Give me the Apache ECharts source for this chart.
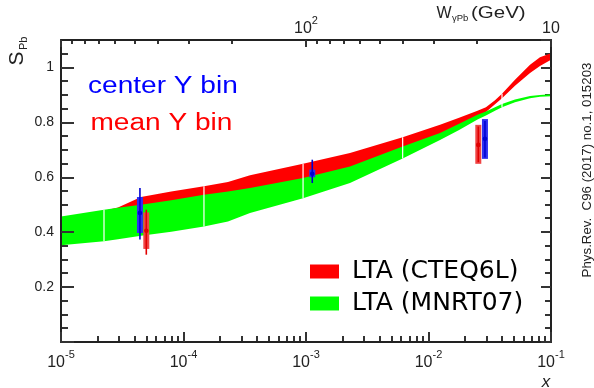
<!DOCTYPE html>
<html><head><meta charset="utf-8">
<script src="https://cdn.jsdelivr.net/npm/echarts@6/dist/echarts.min.js"></script>
<style>html,body{margin:0;padding:0;background:#fff}#c{width:594px;height:388px}</style>
</head><body><div id="c"></div>
<script>
// ---- band samples (x = Bjorken x) ----
const bandX    = [1.0e-5, 2.244e-5, 2.917e-5, 4.498e-5, 7.943e-5, 1.469e-4, 2.307e-4, 3.491e-4, 9.462e-4, 2.286e-3, 6.152e-3, 1.242e-2, 1.778e-2, 2.512e-2, 2.944e-2, 3.491e-2, 3.981e-2, 5.082e-2, 6.745e-2, 8.128e-2, 1.0e-1];
const cteqLow  = [0.430, 0.455, 0.465, 0.480, 0.495, 0.510, 0.525, 0.540, 0.580, 0.625, 0.700, 0.752, 0.785, 0.820, 0.838, 0.866, 0.888, 0.933, 0.980, 1.005, 1.028];
const cteqHigh = [0.452, 0.478, 0.490, 0.528, 0.548, 0.567, 0.583, 0.607, 0.649, 0.688, 0.746, 0.791, 0.817, 0.842, 0.855, 0.881, 0.904, 0.955, 1.010, 1.037, 1.052];
const mnrtLow  = [0.352, 0.367, 0.374, 0.387, 0.402, 0.421, 0.439, 0.470, 0.524, 0.579, 0.668, 0.736, 0.772, 0.810, 0.825, 0.842, 0.855, 0.873, 0.888, 0.893, 0.895];
const mnrtHigh = [0.457, 0.482, 0.489, 0.500, 0.516, 0.536, 0.548, 0.561, 0.597, 0.639, 0.712, 0.761, 0.795, 0.828, 0.840, 0.855, 0.867, 0.883, 0.896, 0.900, 0.902];
const gapIndex = [1, 5, 8, 10, 16];

// ---- data points ----
const blueX      = [4.41e-5, 1.125e-3, 2.89e-2];
const blueY      = [0.470, 0.613, 0.740];
const blueStatLo = [0.373, 0.579, 0.672];
const blueStatHi = [0.561, 0.664, 0.805];
const blueSysLo  = [0.397, 0.600, 0.667];
const blueSysHi  = [0.528, 0.628, 0.812];

const redX      = [4.97e-5, 2.55e-2];
const redY      = [0.405, 0.718];
const redStatLo = [0.318, 0.655];
const redStatHi = [0.482, 0.785];
const redSysLo  = [0.339, 0.649];
const redSysHi  = [0.472, 0.791];

// ---- ticks ----
const xDecades = [1e-5, 1e-4, 1e-3, 1e-2];
const xMults = [2, 3, 4, 5, 6, 7, 8, 9];
const wMinor = [20, 30, 40, 50, 60, 70, 80, 90, 200, 300, 400, 500, 600, 700, 800, 900];
const yMinor = [0.05, 0.1, 0.15, 0.25, 0.3, 0.35, 0.45, 0.5, 0.55, 0.65, 0.7, 0.75, 0.85, 0.9, 0.95, 1.05];

const xMinor = [];
xDecades.forEach(d => xMults.forEach(m => xMinor.push(d * m)));

const AX = '#222';
const FONT = 'Liberation Sans';
const X_MIN = 1e-5, X_MAX = 0.1, Y_MIN = 0, Y_MAX = 1.1;

function bandRender(lowArr, highArr, color) {
  return function (params, api) {
    if (params.dataIndex !== 0) return null;
    const pts = [];
    for (let i = 0; i < bandX.length; i++) pts.push(api.coord([bandX[i], highArr[i]]));
    for (let i = bandX.length - 1; i >= 0; i--) pts.push(api.coord([bandX[i], lowArr[i]]));
    return { type: 'polygon', shape: { points: pts }, style: { fill: color } };
  };
}
function pointRender(boxColor, lineColor) {
  return function (params, api) {
    const x = api.value(0);
    const c = api.coord([x, api.value(1)]);
    const sLo = api.coord([x, api.value(2)]), sHi = api.coord([x, api.value(3)]);
    const bLo = api.coord([x, api.value(4)]), bHi = api.coord([x, api.value(5)]);
    return { type: 'group', children: [
      { type: 'rect', shape: { x: c[0] - 3, y: bHi[1], width: 6, height: bLo[1] - bHi[1] }, style: { fill: boxColor } },
      { type: 'line', shape: { x1: c[0], y1: sLo[1], x2: c[0], y2: sHi[1] }, style: { stroke: lineColor, lineWidth: 1.6 } },
      { type: 'circle', shape: { cx: c[0], cy: c[1], r: 2.3 }, style: { fill: lineColor } }
    ]};
  };
}
function supLabel(v) {
  const e = Math.round(Math.log10(v));
  return '{b|10}{s|' + (e < 0 ? '-' : '') + Math.abs(e) + '}';
}
const labelRich = {
  b: { fontSize: 16, fontFamily: FONT, color: AX, lineHeight: 22, verticalAlign: 'bottom' },
  s: { fontSize: 11, fontFamily: FONT, color: AX, lineHeight: 10, verticalAlign: 'top' }
};
const lineSt = { color: AX, width: 2 };
const tickSt = { color: '#333', width: 2 };

const texts = [
  { type: 'text', x: 88, y: 87, scaleX: 1.22, style: { text: 'center Y bin', fill: '#0000ff', font: '23px "Liberation Sans"', align: 'left', verticalAlign: 'middle' } },
  { type: 'text', x: 90.5, y: 124, scaleX: 1.22, style: { text: 'mean Y bin', fill: '#ff0000', font: '23px "Liberation Sans"', align: 'left', verticalAlign: 'middle' } },
  { type: 'text', x: 17.5, y: 65.5, rotation: Math.PI / 2, style: { text: 'S', fill: AX, font: '21px "Liberation Sans"', align: 'left', verticalAlign: 'middle' } },
  { type: 'text', x: 23.5, y: 50, rotation: Math.PI / 2, style: { text: 'Pb', fill: AX, font: '11px "Liberation Sans"', align: 'left', verticalAlign: 'middle' } },
  { type: 'text', x: 436.5, y: 13.5, style: { text: 'W', fill: AX, font: '16px "Liberation Sans"', align: 'left', verticalAlign: 'middle' } },
  { type: 'text', x: 452, y: 18, style: { text: 'γPb', fill: AX, font: '9.5px "Liberation Sans"', align: 'left', verticalAlign: 'middle' } },
  { type: 'text', x: 471, y: 14, scaleX: 1.28, style: { text: '(GeV)', fill: AX, font: '16px "Liberation Sans"', align: 'left', verticalAlign: 'middle' } },
  { type: 'text', x: 546, y: 382, style: { text: 'x', fill: AX, font: 'italic 17px "Liberation Sans"', align: 'center', verticalAlign: 'middle' } },
  { type: 'text', x: 587, y: 170, rotation: Math.PI / 2, style: { text: 'Phys.Rev.  C96 (2017) no.1, 015203', fill: AX, font: '13.3px "Liberation Sans"', align: 'center', verticalAlign: 'middle' } }
];

const chart = echarts.init(document.getElementById('c'), null, { renderer: 'canvas' });
chart.setOption({
  animation: false,
  backgroundColor: '#fff',
  grid: { left: 61, right: 43, top: 40, bottom: 46, containLabel: false },
  legend: {
    data: ['LTA (CTEQ6L)', 'LTA (MNRT07)'],
    orient: 'vertical', left: 310, top: 259, padding: 0,
    itemWidth: 29, itemHeight: 14, itemGap: 7, icon: 'rect', selectedMode: false,
    textStyle: { fontFamily: 'DejaVu Sans', fontSize: 25, color: '#000', lineHeight: 24, padding: [0, 0, 0, 8] }
  },
  xAxis: [
    { type: 'log', logBase: 10, min: X_MIN, max: X_MAX, position: 'bottom', z: 10,
      axisLine: { show: true, onZero: false, lineStyle: lineSt },
      axisTick: { show: true, inside: true, length: 10, lineStyle: tickSt },
      splitLine: { show: false },
      axisLabel: { margin: 7, formatter: supLabel, rich: labelRich }
    },
    { type: 'log', logBase: 10, min: 10, max: 1000, inverse: true, position: 'top', z: 10,
      axisLine: { show: true, onZero: false, lineStyle: lineSt },
      axisTick: { show: true, inside: true, length: 7, lineStyle: tickSt },
      splitLine: { show: false },
      axisLabel: { margin: 3, rich: labelRich, formatter: function (v) {
        const e = Math.round(Math.log10(v));
        if (e === 1) return '{b|10}';
        if (e === 2) return '{b|10}{s|2}';
        return '';
      } }
    }
  ],
  yAxis: [
    { type: 'value', min: Y_MIN, max: Y_MAX, interval: 0.2, position: 'left', z: 10,
      axisLine: { show: true, onZero: false, lineStyle: lineSt },
      axisTick: { show: true, inside: true, length: 13, lineStyle: tickSt },
      splitLine: { show: false },
      axisLabel: { margin: 7, showMaxLabel: false, color: AX, fontSize: 14, fontFamily: FONT,
        formatter: v => (v < 1e-9 ? '' : (Math.abs(v - 1) < 1e-9 ? '1' : v.toFixed(1))) }
    },
    { type: 'value', min: Y_MIN, max: Y_MAX, interval: 0.2, position: 'right', z: 10,
      axisLine: { show: true, onZero: false, lineStyle: lineSt },
      axisTick: { show: true, inside: true, length: 10, lineStyle: tickSt },
      splitLine: { show: false }, axisLabel: { show: false }
    }
  ],
  series: [
    { type: 'custom', name: 'LTA (CTEQ6L)', z: 2, silent: true, itemStyle: { color: '#ff0000' },
      data: bandX.map((x, i) => [x, cteqLow[i], cteqHigh[i]]), encode: { x: 0, y: [1, 2] },
      renderItem: bandRender(cteqLow, cteqHigh, '#ff0000') },
    { type: 'custom', name: 'LTA (MNRT07)', z: 3, silent: true, itemStyle: { color: '#00ff00' },
      data: bandX.map((x, i) => [x, mnrtLow[i], mnrtHigh[i]]), encode: { x: 0, y: [1, 2] },
      renderItem: bandRender(mnrtLow, mnrtHigh, '#00ff00') },
    { type: 'custom', name: 'gaps', z: 4, silent: true,
      data: gapIndex.map(i => [bandX[i], Math.min(mnrtLow[i], cteqLow[i]), Math.max(mnrtHigh[i], cteqHigh[i])]),
      encode: { x: 0, y: [1, 2] },
      renderItem: function (p, api) {
        const a = api.coord([api.value(0), api.value(1)]), b = api.coord([api.value(0), api.value(2)]);
        return { type: 'line', shape: { x1: a[0], y1: a[1], x2: b[0], y2: b[1] }, style: { stroke: '#fff', lineWidth: 1.2 } };
      } },
    { type: 'custom', name: 'mean Y bin', z: 5, silent: true,
      data: redX.map((x, i) => [x, redY[i], redStatLo[i], redStatHi[i], redSysLo[i], redSysHi[i]]),
      encode: { x: 0, y: [1, 2, 3, 4, 5] },
      renderItem: pointRender('#f04444', '#e00000') },
    { type: 'custom', name: 'center Y bin', z: 6, silent: true,
      data: blueX.map((x, i) => [x, blueY[i], blueStatLo[i], blueStatHi[i], blueSysLo[i], blueSysHi[i]]),
      encode: { x: 0, y: [1, 2, 3, 4, 5] },
      renderItem: pointRender('#2e2ef2', '#0000d0') }
  ]
});

// minor ticks, positioned through the chart's own axis scales
const gfx = texts.slice();
const px = v => chart.convertToPixel({ xAxisIndex: 0 }, v);
const pw = v => chart.convertToPixel({ xAxisIndex: 1 }, v);
const py = v => chart.convertToPixel({ yAxisIndex: 0 }, v);
const yBottom = Math.round(py(Y_MIN)), yTop = Math.round(py(Y_MAX));
const xLeft = Math.round(px(X_MIN)), xRight = Math.round(px(X_MAX));
function tick(x1, y1, x2, y2) {
  gfx.push({ type: 'line', shape: { x1: x1, y1: y1, x2: x2, y2: y2 }, style: { stroke: '#333', lineWidth: 2 } });
}
xMinor.forEach(v => { const x = Math.round(px(v)); tick(x, yBottom, x, yBottom - 6); });
wMinor.forEach(v => { const x = Math.round(pw(v)); tick(x, yTop, x, yTop + 4); });
yMinor.forEach(v => { const y = Math.round(py(v)); tick(xLeft, y, xLeft + 7, y); tick(xRight, y, xRight - 6, y); });
chart.setOption({ graphic: gfx });
</script></body></html>
